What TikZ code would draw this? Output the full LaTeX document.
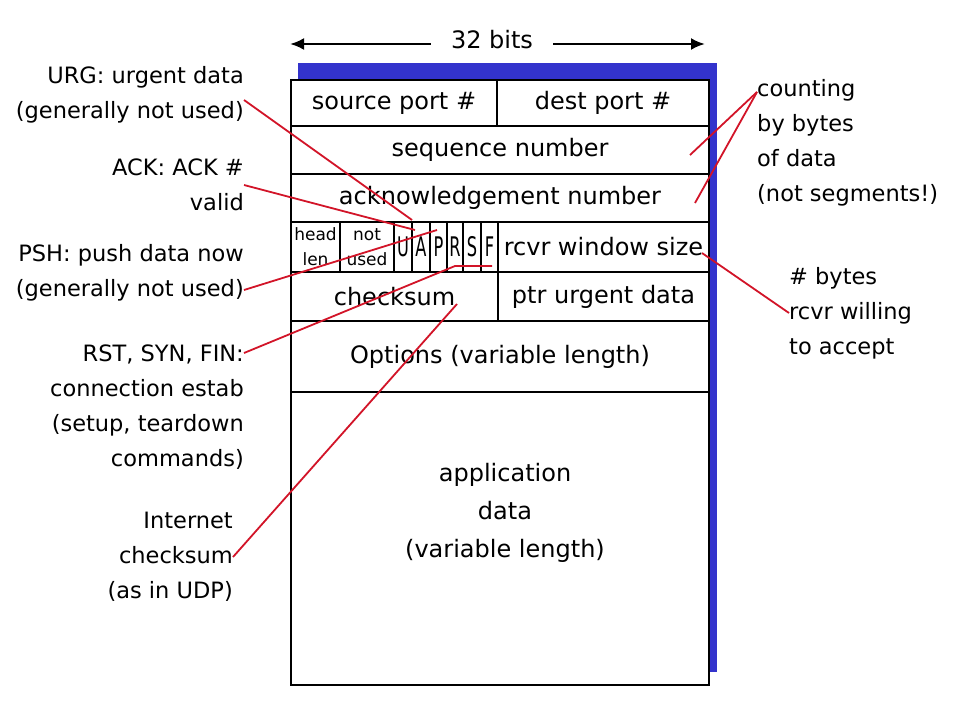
\documentclass[tikz,border=0pt]{standalone}
\usepackage{fontspec}
\setmainfont{DejaVu Sans}
\newfontfamily\narrowfont[FakeStretch=0.6]{DejaVu Sans}
\usetikzlibrary{arrows.meta}
\definecolor{shadowblue}{RGB}{51,51,204}
\definecolor{noteRed}{RGB}{210,20,40}

\begin{document}
\begin{tikzpicture}[x=1pt,y=-1pt,
  field/.style={draw,line width=2.2pt,anchor=north west,inner sep=0pt,outer sep=0pt,
    font=\fontsize{24}{28}\selectfont},
  flag/.style={field,minimum height=50pt,font=\narrowfont\fontsize{27}{30}\selectfont},
  small/.style={field,minimum height=50pt,align=center,font=\fontsize{17}{25}\selectfont},
  note/.style={align=right,anchor=east,inner sep=0pt,font=\fontsize{22.5}{35}\selectfont},
  pointer/.style={draw=noteRed,line width=1.8pt}]
\useasboundingbox (0,0) rectangle (960,720);
\fill[shadowblue] (298,63) rectangle (717,672);

\node[field,fill=white,minimum width=418pt,minimum height=605pt] (appdata) at (291,80) {};
\node[field,minimum width=206pt,minimum height=46pt] (srcport) at (291,80) {source port \#};
\node[field,minimum width=212pt,minimum height=46pt] (dstport) at (497,80) {dest port \#};
\node[field,minimum width=418pt,minimum height=48pt] (seqnum) at (291,126) {sequence number};
\node[field,minimum width=418pt,minimum height=48pt] (acknum) at (291,174) {acknowledgement number};
\node[small,minimum width=49pt] (hlen) at (291,222) {head\\len};
\node[small,minimum width=54pt] (unused) at (340,222) {not\\used};
\foreach \f/\x/\w in {U/394/18,A/412/18,P/430/17,R/447/16,S/463/18,F/481/17}
  \node[flag,minimum width=\w pt] (flag\f) at (\x,222) {\f};
\node[field,minimum width=211pt,minimum height=50pt] (rwnd) at (498,222) {rcvr window size};
\node[field,minimum width=207pt,minimum height=49pt] (cksum) at (291,272) {checksum};
\node[field,minimum width=211pt,minimum height=49pt] (urgptr) at (498,272) {ptr urgent data};
\node[field,minimum width=418pt,minimum height=71pt] (options) at (291,321) {Options (variable length)};
\node[align=center,font=\fontsize{24}{38}\selectfont] (apptext) at (505,513) {application\\data\\(variable length)};

\node[inner xsep=20pt,inner ysep=0pt,font=\fontsize{24}{30}\selectfont] (bits) at (492,40) {32 bits};
\coordinate (bitsL) at (290,44);
\coordinate (bitsR) at (705,44);
\draw[-{Latex[length=14pt,width=12pt]},line width=2.6pt] (bits.west |- bitsL) -- (bitsL);
\draw[-{Latex[length=14pt,width=12pt]},line width=2.6pt] (bits.east |- bitsR) -- (bitsR);

\node[note] (urg) at (244,95) {URG: urgent data\\(generally not used)};
\node[note] (ack) at (244,185) {ACK: ACK \#\\valid};
\node[note] (psh) at (244,273) {PSH: push data now\\(generally not used)};
\node[note] (rst) at (244,407) {RST, SYN, FIN:\\connection estab\\(setup, teardown\\commands)};
\node[note] (inet) at (233,557) {Internet\\checksum\\(as in UDP)};
\node[note,align=left,anchor=west] (count) at (757,143) {counting\\by bytes\\of data\\(not segments!)};
\node[note,align=left,anchor=west] (nbytes) at (789,313) {\# bytes\\rcvr willing\\to accept};

\coordinate (urgEnd) at (412,220);
\coordinate (ackEnd) at (415,230);
\coordinate (pshEnd) at (437,230);
\coordinate (rstBend) at (455,266);
\coordinate (rstEnd) at (492,266);
\coordinate (cksEnd) at (457,304);
\coordinate (seqEnd) at (690,155);
\coordinate (ackNumEnd) at (695,203);
\coordinate (rwndEnd) at (702,253);

\draw[pointer] ([yshift=-5pt]urg.east) -- (urgEnd);
\draw[pointer] (ack.east) -- (ackEnd);
\draw[pointer] ([yshift=-17pt]psh.east) -- (pshEnd);
\draw[pointer] ([yshift=54pt]rst.east) -- (rstBend) -- (rstEnd);
\draw[pointer] (inet.east) -- (cksEnd);
\draw[pointer] ([yshift=51pt]count.west) -- (seqEnd);
\draw[pointer] ([yshift=51pt]count.west) -- (ackNumEnd);
\draw[pointer] (nbytes.west) -- (rwndEnd);
\end{tikzpicture}
\end{document}
